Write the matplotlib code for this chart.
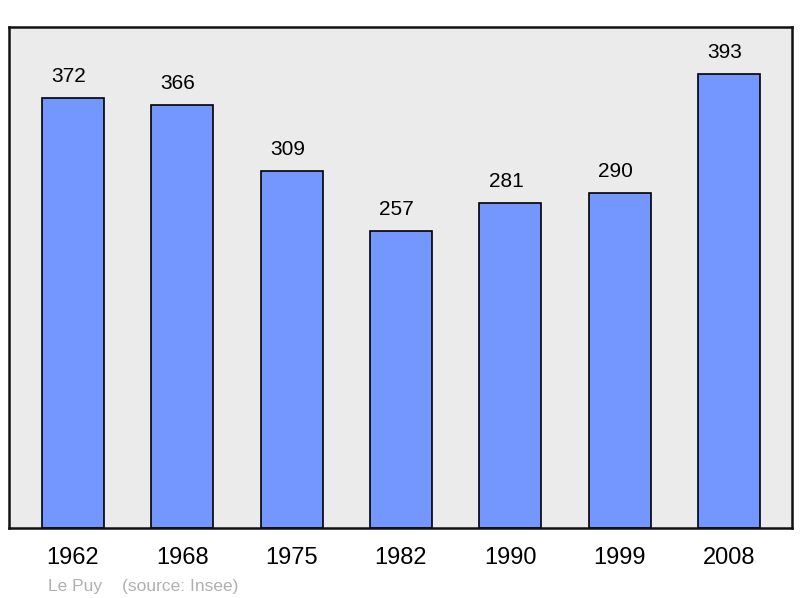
import matplotlib.pyplot as plt

plt.rcParams['font.family'] = ['Liberation Sans', 'DejaVu Sans']

# data
years = ['1962', '1968', '1975', '1982', '1990', '1999', '2008']
population = [372, 366, 309, 257, 281, 290, 393]

fig = plt.figure(figsize=(8, 5.98), dpi=100)
ax = fig.add_axes([9 / 800, 70 / 598, 783 / 800, 501 / 598])
ax.set_facecolor('#ebebeb')

x = range(len(years))
bars = ax.bar(x, population, width=0.567, color='#7396ff',
              edgecolor='black', linewidth=1.2)

# value labels above bars
for xi, v in zip(x, population):
    ax.annotate(str(v), (xi, v), xytext=(-3, 8.5), textcoords='offset points',
                ha='center', va='bottom', fontsize=15)

ax.set_xlim(-0.585, 6.576)
ax.set_ylim(0, 433.4)
ax.set_yticks([])
ax.set_xticks(list(x))
ax.set_xticklabels(years, fontsize=17)
ax.tick_params(axis='x', length=0, pad=13.5)
for s in ax.spines.values():
    s.set_linewidth(1.8)
    s.set_color('#111111')

fig.text(48 / 800, 1 - 586 / 598, 'Le Puy', color='#b0b0b0', fontsize=12.5, va='center')
fig.text(122 / 800, 1 - 586 / 598, '(source: Insee)', color='#b0b0b0', fontsize=12.5, va='center')

fig.savefig('out.png', dpi=100)
